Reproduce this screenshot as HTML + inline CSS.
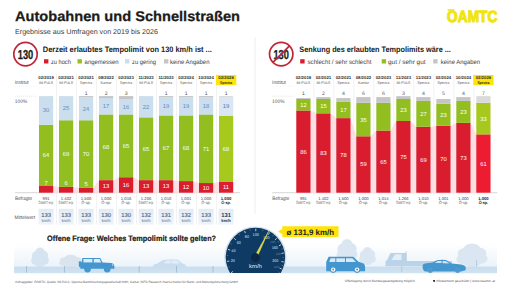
<!DOCTYPE html>
<html><head><meta charset="utf-8"><style>
html,body{margin:0;padding:0;background:#fff;width:512px;height:288px;overflow:hidden}
svg{display:block}
text{font-family:"Liberation Sans",sans-serif;text-rendering:geometricPrecision}
</style></head><body>
<svg width="512" height="288" viewBox="0 0 512 288">
<rect width="512" height="288" fill="#fff"/>
<text x="15" y="21" font-size="14" fill="#1b1b1b" font-weight="bold" textLength="225" lengthAdjust="spacingAndGlyphs" stroke="#1b1b1b" stroke-width="0.25">Autobahnen und Schnellstraßen</text>
<text x="15" y="33.6" font-size="7.1" fill="#3a3a3a" textLength="143" lengthAdjust="spacingAndGlyphs">Ergebnisse aus Umfragen von 2019 bis 2026</text>
<text x="447.1" y="21.9" font-size="16.2" fill="#f1e40e" font-weight="bold" textLength="50.2" lengthAdjust="spacingAndGlyphs" stroke="#f1e40e" stroke-width="1.15" stroke-linejoin="miter">OAMTC</text>
<rect x="447.6" y="9.2" width="6.8" height="1.6" fill="#f1e40e"/>
<line x1="255" y1="37" x2="255" y2="214" stroke="#eeeeee" stroke-width="1"/>
<defs><linearGradient id="mw" x1="0" y1="0" x2="0" y2="1"><stop offset="0" stop-color="#e2ebf4"/><stop offset="1" stop-color="#eff4f9"/></linearGradient></defs>
<circle cx="25.5" cy="54.1" r="11.7" fill="#fff" stroke="#bf2639" stroke-width="1.7"/>
<text x="25.5" y="58.7" font-size="13" fill="#1c1c1c" font-weight="bold" text-anchor="middle" textLength="15.5" lengthAdjust="spacingAndGlyphs" stroke="#1c1c1c" stroke-width="0.3">130</text>
<text x="42.8" y="51.7" font-size="7.9" fill="#222" font-weight="bold" textLength="169" lengthAdjust="spacingAndGlyphs">Derzeit erlaubtes Tempolimit von 130 km/h ist ...</text>
<rect x="44" y="59.2" width="4.4" height="4.3" fill="#d91d2e"/>
<text x="50.9" y="63.5" font-size="6.3" fill="#404040" textLength="20" lengthAdjust="spacingAndGlyphs">zu hoch</text>
<rect x="77.5" y="59.2" width="4.4" height="4.3" fill="#92be20"/>
<text x="84.6" y="63.5" font-size="6.3" fill="#404040" textLength="34" lengthAdjust="spacingAndGlyphs">angemessen</text>
<rect x="125" y="59.2" width="4.4" height="4.3" fill="#cadeee"/>
<text x="132" y="63.5" font-size="6.3" fill="#404040" textLength="24" lengthAdjust="spacingAndGlyphs">zu gering</text>
<rect x="164" y="59.2" width="4.4" height="4.3" fill="#c5c5c5"/>
<text x="170" y="63.5" font-size="6.3" fill="#404040" textLength="39.5" lengthAdjust="spacingAndGlyphs">keine Angaben</text>
<text x="14.8" y="83.6" font-size="5" fill="#555" textLength="13.8" lengthAdjust="spacingAndGlyphs">Institut</text>
<line x1="15" y1="86.3" x2="37" y2="86.3" stroke="#e0e0e0" stroke-width="0.4" stroke-dasharray="1 1"/>
<text x="14.8" y="102.5" font-size="5" fill="#555" textLength="12.4" lengthAdjust="spacingAndGlyphs">100%</text>
<text x="15" y="199.8" font-size="5" fill="#555" textLength="17" lengthAdjust="spacingAndGlyphs">Befragte</text>
<line x1="15" y1="96.2" x2="37" y2="96.2" stroke="#ccc" stroke-width="0.5" stroke-dasharray="1 1"/>
<line x1="15" y1="192.7" x2="240" y2="192.7" stroke="#bbb" stroke-width="0.6"/>
<text x="14.6" y="218.6" font-size="5" fill="#555" textLength="20.4" lengthAdjust="spacingAndGlyphs">Mittelwert</text>
<line x1="56.5" y1="74" x2="56.5" y2="224.5" stroke="#e4e4e4" stroke-width="0.5"/>
<line x1="76.5" y1="74" x2="76.5" y2="224.5" stroke="#e4e4e4" stroke-width="0.5"/>
<line x1="96.5" y1="74" x2="96.5" y2="224.5" stroke="#e4e4e4" stroke-width="0.5"/>
<line x1="116.5" y1="74" x2="116.5" y2="224.5" stroke="#e4e4e4" stroke-width="0.5"/>
<line x1="136.5" y1="74" x2="136.5" y2="224.5" stroke="#e4e4e4" stroke-width="0.5"/>
<line x1="156.5" y1="74" x2="156.5" y2="224.5" stroke="#e4e4e4" stroke-width="0.5"/>
<line x1="176.5" y1="74" x2="176.5" y2="224.5" stroke="#e4e4e4" stroke-width="0.5"/>
<line x1="196.5" y1="74" x2="196.5" y2="224.5" stroke="#e4e4e4" stroke-width="0.5"/>
<line x1="216.5" y1="74" x2="216.5" y2="224.5" stroke="#e4e4e4" stroke-width="0.5"/>
<polygon points="39.00,186.00 53.20,186.00 59.00,186.90 73.20,186.90 79.00,187.87 93.20,187.87 99.00,180.14 113.20,180.14 119.00,177.24 133.20,177.24 139.00,180.14 153.20,180.14 159.00,180.14 173.20,180.14 179.00,181.11 193.20,181.11 199.00,183.04 213.20,183.04 219.00,181.97 233.20,181.97 233.20,192.7 39.00,192.7" fill="#fcdfe3"/>
<text x="46.1" y="79.3" font-size="4.3" fill="#333" font-weight="bold" text-anchor="middle">02/2019</text>
<text x="46.1" y="83.6" font-size="3.8" fill="#555" text-anchor="middle" textLength="14" lengthAdjust="spacingAndGlyphs">IM-PULS</text>
<rect x="39" y="186.00" width="14.2" height="6.70" fill="#d91d2e"/>
<rect x="39" y="124.79" width="14.2" height="61.21" fill="#92be20"/>
<rect x="39" y="96.10" width="14.2" height="28.69" fill="#cadeee"/>
<rect x="39" y="96.10" width="14.2" height="0.00" fill="#c5c5c5"/>
<text x="46.1" y="112.44653465346533" font-size="5.8" fill="#5f8fc2" text-anchor="middle">30</text>
<text x="46.1" y="157.39900990099008" font-size="5.8" fill="#fff" text-anchor="middle">64</text>
<text x="46.1" y="184.50495049504948" font-size="5.8" fill="#fff" text-anchor="middle">7</text>
<text x="46.1" y="199.8" font-size="4.2" fill="#444" text-anchor="middle">991</text>
<text x="46.1" y="204.1" font-size="4.2" fill="#555" text-anchor="middle" textLength="15" lengthAdjust="spacingAndGlyphs">ÖAMTC-erp.</text>
<rect x="38.6" y="208.8" width="15.0" height="15.8" fill="url(#mw)"/>
<text x="46.1" y="217.2" font-size="5.8" fill="#4a6c90" text-anchor="middle" stroke="#4a6c90" stroke-width="0.15">133</text>
<text x="46.1" y="221.7" font-size="4.1" fill="#4a6c90" text-anchor="middle">km/h</text>
<text x="66.1" y="79.3" font-size="4.3" fill="#333" font-weight="bold" text-anchor="middle">02/2021</text>
<text x="66.1" y="83.6" font-size="3.8" fill="#555" text-anchor="middle" textLength="14" lengthAdjust="spacingAndGlyphs">IM-PULS</text>
<rect x="59" y="186.90" width="14.2" height="5.80" fill="#d91d2e"/>
<rect x="59" y="120.25" width="14.2" height="66.65" fill="#92be20"/>
<rect x="59" y="96.10" width="14.2" height="24.15" fill="#cadeee"/>
<rect x="59" y="96.10" width="14.2" height="0.00" fill="#c5c5c5"/>
<text x="66.1" y="110.175" font-size="5.8" fill="#5f8fc2" text-anchor="middle">25</text>
<text x="66.1" y="155.577" font-size="5.8" fill="#fff" text-anchor="middle">69</text>
<text x="66.1" y="185.404" font-size="5.8" fill="#fff" text-anchor="middle">6</text>
<text x="66.1" y="199.8" font-size="4.2" fill="#444" text-anchor="middle">1.402</text>
<text x="66.1" y="204.1" font-size="4.2" fill="#555" text-anchor="middle" textLength="15" lengthAdjust="spacingAndGlyphs">ÖAMTC-erp.</text>
<rect x="58.6" y="208.8" width="15.0" height="15.8" fill="url(#mw)"/>
<text x="66.1" y="217.2" font-size="5.8" fill="#4a6c90" text-anchor="middle" stroke="#4a6c90" stroke-width="0.15">133</text>
<text x="66.1" y="221.7" font-size="4.1" fill="#4a6c90" text-anchor="middle">km/h</text>
<text x="86.1" y="79.3" font-size="4.3" fill="#333" font-weight="bold" text-anchor="middle">02/2021</text>
<text x="86.1" y="83.6" font-size="3.8" fill="#555" text-anchor="middle" textLength="12" lengthAdjust="spacingAndGlyphs">Spectra</text>
<rect x="79" y="187.87" width="14.2" height="4.83" fill="#d91d2e"/>
<rect x="79" y="120.25" width="14.2" height="67.62" fill="#92be20"/>
<rect x="79" y="97.07" width="14.2" height="23.18" fill="#cadeee"/>
<rect x="79" y="96.10" width="14.2" height="0.97" fill="#c5c5c5"/>
<text x="86.1" y="94.5" font-size="5.2" fill="#555" text-anchor="middle">1</text>
<text x="86.1" y="110.65799999999999" font-size="5.8" fill="#5f8fc2" text-anchor="middle">24</text>
<text x="86.1" y="156.05999999999997" font-size="5.8" fill="#fff" text-anchor="middle">70</text>
<text x="86.1" y="186.36999999999998" font-size="5.8" fill="#fff" text-anchor="middle">5</text>
<text x="86.1" y="199.8" font-size="4.2" fill="#444" text-anchor="middle">1.500</text>
<text x="86.1" y="204.1" font-size="4.2" fill="#555" text-anchor="middle" textLength="9.5" lengthAdjust="spacingAndGlyphs">Ö-sp.</text>
<rect x="78.6" y="208.8" width="15.0" height="15.8" fill="url(#mw)"/>
<text x="86.1" y="217.2" font-size="5.8" fill="#4a6c90" text-anchor="middle" stroke="#4a6c90" stroke-width="0.15">133</text>
<text x="86.1" y="221.7" font-size="4.1" fill="#4a6c90" text-anchor="middle">km/h</text>
<text x="106.1" y="79.3" font-size="4.3" fill="#333" font-weight="bold" text-anchor="middle">08/2022</text>
<text x="106.1" y="83.6" font-size="3.8" fill="#555" text-anchor="middle" textLength="11" lengthAdjust="spacingAndGlyphs">Kantar</text>
<rect x="99" y="180.14" width="14.2" height="12.56" fill="#d91d2e"/>
<rect x="99" y="114.45" width="14.2" height="65.69" fill="#92be20"/>
<rect x="99" y="98.03" width="14.2" height="16.42" fill="#cadeee"/>
<rect x="99" y="96.10" width="14.2" height="1.93" fill="#c5c5c5"/>
<text x="106.1" y="94.5" font-size="5.2" fill="#555" text-anchor="middle">2</text>
<text x="106.1" y="108.243" font-size="5.8" fill="#5f8fc2" text-anchor="middle">17</text>
<text x="106.1" y="149.298" font-size="5.8" fill="#fff" text-anchor="middle">68</text>
<text x="106.1" y="188.421" font-size="5.8" fill="#fff" text-anchor="middle">13</text>
<text x="106.1" y="199.8" font-size="4.2" fill="#444" text-anchor="middle">1.000</text>
<text x="106.1" y="204.1" font-size="4.2" fill="#555" text-anchor="middle" textLength="9.5" lengthAdjust="spacingAndGlyphs">Ö-sp.</text>
<rect x="98.6" y="208.8" width="15.0" height="15.8" fill="url(#mw)"/>
<text x="106.1" y="217.2" font-size="5.8" fill="#4a6c90" text-anchor="middle" stroke="#4a6c90" stroke-width="0.15">130</text>
<text x="106.1" y="221.7" font-size="4.1" fill="#4a6c90" text-anchor="middle">km/h</text>
<text x="126.1" y="79.3" font-size="4.3" fill="#333" font-weight="bold" text-anchor="middle">02/2023</text>
<text x="126.1" y="83.6" font-size="3.8" fill="#555" text-anchor="middle" textLength="12" lengthAdjust="spacingAndGlyphs">Spectra</text>
<rect x="119" y="177.24" width="14.2" height="15.46" fill="#d91d2e"/>
<rect x="119" y="114.45" width="14.2" height="62.79" fill="#92be20"/>
<rect x="119" y="99.00" width="14.2" height="15.46" fill="#cadeee"/>
<rect x="119" y="96.10" width="14.2" height="2.90" fill="#c5c5c5"/>
<text x="126.1" y="94.5" font-size="5.2" fill="#555" text-anchor="middle">3</text>
<text x="126.1" y="108.726" font-size="5.8" fill="#5f8fc2" text-anchor="middle">16</text>
<text x="126.1" y="147.849" font-size="5.8" fill="#fff" text-anchor="middle">65</text>
<text x="126.1" y="186.97199999999998" font-size="5.8" fill="#fff" text-anchor="middle">16</text>
<text x="126.1" y="199.8" font-size="4.2" fill="#444" text-anchor="middle">1.016</text>
<text x="126.1" y="204.1" font-size="4.2" fill="#555" text-anchor="middle" textLength="9.5" lengthAdjust="spacingAndGlyphs">Ö-sp.</text>
<rect x="118.6" y="208.8" width="15.0" height="15.8" fill="url(#mw)"/>
<text x="126.1" y="217.2" font-size="5.8" fill="#4a6c90" text-anchor="middle" stroke="#4a6c90" stroke-width="0.15">130</text>
<text x="126.1" y="221.7" font-size="4.1" fill="#4a6c90" text-anchor="middle">km/h</text>
<text x="146.1" y="79.3" font-size="4.3" fill="#333" font-weight="bold" text-anchor="middle">11/2023</text>
<text x="146.1" y="83.6" font-size="3.8" fill="#555" text-anchor="middle" textLength="14" lengthAdjust="spacingAndGlyphs">IM-PULS</text>
<rect x="139" y="180.14" width="14.2" height="12.56" fill="#d91d2e"/>
<rect x="139" y="117.35" width="14.2" height="62.79" fill="#92be20"/>
<rect x="139" y="96.10" width="14.2" height="21.25" fill="#cadeee"/>
<rect x="139" y="96.10" width="14.2" height="0.00" fill="#c5c5c5"/>
<text x="146.1" y="108.726" font-size="5.8" fill="#5f8fc2" text-anchor="middle">22</text>
<text x="146.1" y="150.747" font-size="5.8" fill="#fff" text-anchor="middle">65</text>
<text x="146.1" y="188.421" font-size="5.8" fill="#fff" text-anchor="middle">13</text>
<text x="146.1" y="199.8" font-size="4.2" fill="#444" text-anchor="middle">1.266</text>
<text x="146.1" y="204.1" font-size="4.2" fill="#555" text-anchor="middle" textLength="15" lengthAdjust="spacingAndGlyphs">ÖAMTC-erp.</text>
<rect x="138.6" y="208.8" width="15.0" height="15.8" fill="url(#mw)"/>
<text x="146.1" y="217.2" font-size="5.8" fill="#4a6c90" text-anchor="middle" stroke="#4a6c90" stroke-width="0.15">132</text>
<text x="146.1" y="221.7" font-size="4.1" fill="#4a6c90" text-anchor="middle">km/h</text>
<text x="166.1" y="79.3" font-size="4.3" fill="#333" font-weight="bold" text-anchor="middle">11/2023</text>
<text x="166.1" y="83.6" font-size="3.8" fill="#555" text-anchor="middle" textLength="12" lengthAdjust="spacingAndGlyphs">Spectra</text>
<rect x="159" y="180.14" width="14.2" height="12.56" fill="#d91d2e"/>
<rect x="159" y="115.42" width="14.2" height="64.72" fill="#92be20"/>
<rect x="159" y="97.07" width="14.2" height="18.35" fill="#cadeee"/>
<rect x="159" y="96.10" width="14.2" height="0.97" fill="#c5c5c5"/>
<text x="166.1" y="94.5" font-size="5.2" fill="#555" text-anchor="middle">1</text>
<text x="166.1" y="108.243" font-size="5.8" fill="#5f8fc2" text-anchor="middle">19</text>
<text x="166.1" y="149.781" font-size="5.8" fill="#fff" text-anchor="middle">67</text>
<text x="166.1" y="188.421" font-size="5.8" fill="#fff" text-anchor="middle">13</text>
<text x="166.1" y="199.8" font-size="4.2" fill="#444" text-anchor="middle">1.010</text>
<text x="166.1" y="204.1" font-size="4.2" fill="#555" text-anchor="middle" textLength="9.5" lengthAdjust="spacingAndGlyphs">Ö-sp.</text>
<rect x="158.6" y="208.8" width="15.0" height="15.8" fill="url(#mw)"/>
<text x="166.1" y="217.2" font-size="5.8" fill="#4a6c90" text-anchor="middle" stroke="#4a6c90" stroke-width="0.15">131</text>
<text x="166.1" y="221.7" font-size="4.1" fill="#4a6c90" text-anchor="middle">km/h</text>
<text x="186.1" y="79.3" font-size="4.3" fill="#333" font-weight="bold" text-anchor="middle">02/2024</text>
<text x="186.1" y="83.6" font-size="3.8" fill="#555" text-anchor="middle" textLength="12" lengthAdjust="spacingAndGlyphs">Spectra</text>
<rect x="179" y="181.11" width="14.2" height="11.59" fill="#d91d2e"/>
<rect x="179" y="115.42" width="14.2" height="65.69" fill="#92be20"/>
<rect x="179" y="97.07" width="14.2" height="18.35" fill="#cadeee"/>
<rect x="179" y="96.10" width="14.2" height="0.97" fill="#c5c5c5"/>
<text x="186.1" y="94.5" font-size="5.2" fill="#555" text-anchor="middle">1</text>
<text x="186.1" y="108.243" font-size="5.8" fill="#5f8fc2" text-anchor="middle">19</text>
<text x="186.1" y="150.264" font-size="5.8" fill="#fff" text-anchor="middle">68</text>
<text x="186.1" y="188.904" font-size="5.8" fill="#fff" text-anchor="middle">12</text>
<text x="186.1" y="199.8" font-size="4.2" fill="#444" text-anchor="middle">1.001</text>
<text x="186.1" y="204.1" font-size="4.2" fill="#555" text-anchor="middle" textLength="9.5" lengthAdjust="spacingAndGlyphs">Ö-sp.</text>
<rect x="178.6" y="208.8" width="15.0" height="15.8" fill="url(#mw)"/>
<text x="186.1" y="217.2" font-size="5.8" fill="#4a6c90" text-anchor="middle" stroke="#4a6c90" stroke-width="0.15">132</text>
<text x="186.1" y="221.7" font-size="4.1" fill="#4a6c90" text-anchor="middle">km/h</text>
<text x="206.1" y="79.3" font-size="4.3" fill="#333" font-weight="bold" text-anchor="middle">10/2024</text>
<text x="206.1" y="83.6" font-size="3.8" fill="#555" text-anchor="middle" textLength="12" lengthAdjust="spacingAndGlyphs">Spectra</text>
<rect x="199" y="183.04" width="14.2" height="9.66" fill="#d91d2e"/>
<rect x="199" y="114.45" width="14.2" height="68.59" fill="#92be20"/>
<rect x="199" y="97.07" width="14.2" height="17.39" fill="#cadeee"/>
<rect x="199" y="96.10" width="14.2" height="0.97" fill="#c5c5c5"/>
<text x="206.1" y="94.5" font-size="5.2" fill="#555" text-anchor="middle">1</text>
<text x="206.1" y="107.75999999999999" font-size="5.8" fill="#5f8fc2" text-anchor="middle">18</text>
<text x="206.1" y="150.74699999999999" font-size="5.8" fill="#fff" text-anchor="middle">71</text>
<text x="206.1" y="189.87" font-size="5.8" fill="#fff" text-anchor="middle">10</text>
<text x="206.1" y="199.8" font-size="4.2" fill="#444" text-anchor="middle">1.000</text>
<text x="206.1" y="204.1" font-size="4.2" fill="#555" text-anchor="middle" textLength="9.5" lengthAdjust="spacingAndGlyphs">Ö-sp.</text>
<rect x="198.6" y="208.8" width="15.0" height="15.8" fill="url(#mw)"/>
<text x="206.1" y="217.2" font-size="5.8" fill="#4a6c90" text-anchor="middle" stroke="#4a6c90" stroke-width="0.15">133</text>
<text x="206.1" y="221.7" font-size="4.1" fill="#4a6c90" text-anchor="middle">km/h</text>
<rect x="216" y="75" width="20.3" height="10" fill="#fde40a"/>
<text x="226.1" y="79.3" font-size="4.3" fill="#333" font-weight="bold" text-anchor="middle">02/2026</text>
<text x="226.1" y="83.6" font-size="3.8" fill="#222" font-weight="bold" text-anchor="middle" textLength="12" lengthAdjust="spacingAndGlyphs">Spectra</text>
<rect x="219" y="181.97" width="14.2" height="10.73" fill="#dc1f31"/>
<rect x="219" y="115.62" width="14.2" height="66.35" fill="#a7c81c"/>
<rect x="219" y="97.08" width="14.2" height="18.54" fill="#d9e7f4"/>
<rect x="219" y="96.10" width="14.2" height="0.98" fill="#dadada"/>
<text x="226.1" y="94.5" font-size="5.2" fill="#555" text-anchor="middle">1</text>
<text x="226.1" y="108.34545454545456" font-size="5.8" fill="#4a78a8" text-anchor="middle">19</text>
<text x="226.1" y="150.7909090909091" font-size="5.8" fill="#fff" text-anchor="middle">68</text>
<text x="226.1" y="189.33333333333331" font-size="5.8" fill="#fff" text-anchor="middle">11</text>
<text x="226.1" y="199.8" font-size="4.2" fill="#222" font-weight="bold" text-anchor="middle">1.000</text>
<text x="226.1" y="204.1" font-size="4.2" fill="#222" font-weight="bold" text-anchor="middle" textLength="9.5" lengthAdjust="spacingAndGlyphs">Ö-sp.</text>
<rect x="218.6" y="208.8" width="15.0" height="15.8" fill="url(#mw)"/>
<text x="226.1" y="217.2" font-size="5.8" fill="#1e3550" font-weight="bold" text-anchor="middle">131</text>
<text x="226.1" y="221.7" font-size="4.1" fill="#1e3550" font-weight="bold" text-anchor="middle">km/h</text>
<circle cx="281.2" cy="54.1" r="11.7" fill="#fff" stroke="#bf2639" stroke-width="1.7"/>
<text x="281.2" y="58.7" font-size="13" fill="#1c1c1c" font-weight="bold" text-anchor="middle" textLength="15.5" lengthAdjust="spacingAndGlyphs" stroke="#1c1c1c" stroke-width="0.3">130</text>
<line x1="289.5" y1="45.8" x2="272.9" y2="62.400000000000006" stroke="#bf2639" stroke-width="1.7"/>
<text x="299.3" y="51.7" font-size="7.9" fill="#222" font-weight="bold" textLength="151.5" lengthAdjust="spacingAndGlyphs">Senkung des erlaubten Tempolimits wäre ...</text>
<rect x="300.2" y="59.2" width="4.4" height="4.3" fill="#d91d2e"/>
<text x="307.5" y="63.5" font-size="6.3" fill="#404040" textLength="64" lengthAdjust="spacingAndGlyphs">schlecht / sehr schlecht</text>
<rect x="381.7" y="59.2" width="4.4" height="4.3" fill="#92be20"/>
<text x="388.0" y="63.5" font-size="6.3" fill="#404040" textLength="37.5" lengthAdjust="spacingAndGlyphs">gut / sehr gut</text>
<rect x="433.2" y="59.2" width="4.4" height="4.3" fill="#c5c5c5"/>
<text x="440.7" y="63.5" font-size="6.3" fill="#404040" textLength="39.5" lengthAdjust="spacingAndGlyphs">keine Angaben</text>
<text x="272.1" y="83.6" font-size="5" fill="#555" textLength="13.8" lengthAdjust="spacingAndGlyphs">Institut</text>
<line x1="272.3" y1="86.3" x2="294.3" y2="86.3" stroke="#e0e0e0" stroke-width="0.4" stroke-dasharray="1 1"/>
<text x="272.1" y="102.5" font-size="5" fill="#555" textLength="12.4" lengthAdjust="spacingAndGlyphs">100%</text>
<text x="272.3" y="199.8" font-size="5" fill="#555" textLength="17" lengthAdjust="spacingAndGlyphs">Befragte</text>
<line x1="272.3" y1="96.2" x2="294.3" y2="96.2" stroke="#ccc" stroke-width="0.5" stroke-dasharray="1 1"/>
<line x1="272.3" y1="192.7" x2="497.3" y2="192.7" stroke="#bbb" stroke-width="0.6"/>
<line x1="313.8" y1="74" x2="313.8" y2="195.5" stroke="#e4e4e4" stroke-width="0.5"/>
<line x1="333.8" y1="74" x2="333.8" y2="195.5" stroke="#e4e4e4" stroke-width="0.5"/>
<line x1="353.8" y1="74" x2="353.8" y2="195.5" stroke="#e4e4e4" stroke-width="0.5"/>
<line x1="373.8" y1="74" x2="373.8" y2="195.5" stroke="#e4e4e4" stroke-width="0.5"/>
<line x1="393.8" y1="74" x2="393.8" y2="195.5" stroke="#e4e4e4" stroke-width="0.5"/>
<line x1="413.8" y1="74" x2="413.8" y2="195.5" stroke="#e4e4e4" stroke-width="0.5"/>
<line x1="433.8" y1="74" x2="433.8" y2="195.5" stroke="#e4e4e4" stroke-width="0.5"/>
<line x1="453.8" y1="74" x2="453.8" y2="195.5" stroke="#e4e4e4" stroke-width="0.5"/>
<line x1="473.8" y1="74" x2="473.8" y2="195.5" stroke="#e4e4e4" stroke-width="0.5"/>
<polygon points="296.30,110.48 310.50,110.48 316.30,113.35 330.50,113.35 336.30,118.13 350.50,118.13 356.30,136.30 370.50,136.30 376.30,130.56 390.50,130.56 396.30,121.00 410.50,121.00 416.30,126.74 430.50,126.74 436.30,125.78 450.50,125.78 456.30,122.91 470.50,122.91 476.30,134.38 490.50,134.38 490.50,192.7 296.30,192.7" fill="#fcdfe3"/>
<text x="303.40000000000003" y="79.3" font-size="4.3" fill="#333" font-weight="bold" text-anchor="middle">02/2019</text>
<text x="303.40000000000003" y="83.6" font-size="3.8" fill="#555" text-anchor="middle" textLength="14" lengthAdjust="spacingAndGlyphs">IM-PULS</text>
<rect x="296.3" y="110.48" width="14.2" height="82.22" fill="#d91d2e"/>
<rect x="296.3" y="99.01" width="14.2" height="11.47" fill="#92be20"/>
<rect x="296.3" y="98.06" width="14.2" height="0.96" fill="#c5c5c5"/>
<text x="303.40000000000003" y="94.5" font-size="5.2" fill="#555" text-anchor="middle">1</text>
<text x="303.40000000000003" y="106.74799999999999" font-size="5.8" fill="#fff" text-anchor="middle">12</text>
<text x="303.40000000000003" y="153.59199999999998" font-size="5.8" fill="#fff" text-anchor="middle">86</text>
<text x="303.40000000000003" y="199.8" font-size="4.2" fill="#444" text-anchor="middle">991</text>
<text x="303.40000000000003" y="204.1" font-size="4.2" fill="#555" text-anchor="middle" textLength="15" lengthAdjust="spacingAndGlyphs">ÖAMTC-erp.</text>
<text x="323.40000000000003" y="79.3" font-size="4.3" fill="#333" font-weight="bold" text-anchor="middle">02/2021</text>
<text x="323.40000000000003" y="83.6" font-size="3.8" fill="#555" text-anchor="middle" textLength="14" lengthAdjust="spacingAndGlyphs">IM-PULS</text>
<rect x="316.3" y="113.35" width="14.2" height="79.35" fill="#d91d2e"/>
<rect x="316.3" y="99.01" width="14.2" height="14.34" fill="#92be20"/>
<rect x="316.3" y="97.10" width="14.2" height="1.91" fill="#c5c5c5"/>
<text x="323.40000000000003" y="94.5" font-size="5.2" fill="#555" text-anchor="middle">2</text>
<text x="323.40000000000003" y="108.182" font-size="5.8" fill="#fff" text-anchor="middle">15</text>
<text x="323.40000000000003" y="155.026" font-size="5.8" fill="#fff" text-anchor="middle">83</text>
<text x="323.40000000000003" y="199.8" font-size="4.2" fill="#444" text-anchor="middle">1.402</text>
<text x="323.40000000000003" y="204.1" font-size="4.2" fill="#555" text-anchor="middle" textLength="15" lengthAdjust="spacingAndGlyphs">ÖAMTC-erp.</text>
<text x="343.40000000000003" y="79.3" font-size="4.3" fill="#333" font-weight="bold" text-anchor="middle">02/2021</text>
<text x="343.40000000000003" y="83.6" font-size="3.8" fill="#555" text-anchor="middle" textLength="12" lengthAdjust="spacingAndGlyphs">Spectra</text>
<rect x="336.3" y="118.13" width="14.2" height="74.57" fill="#d91d2e"/>
<rect x="336.3" y="101.88" width="14.2" height="16.25" fill="#92be20"/>
<rect x="336.3" y="98.06" width="14.2" height="3.82" fill="#c5c5c5"/>
<text x="343.40000000000003" y="94.5" font-size="5.2" fill="#555" text-anchor="middle">4</text>
<text x="343.40000000000003" y="112.006" font-size="5.8" fill="#fff" text-anchor="middle">17</text>
<text x="343.40000000000003" y="157.416" font-size="5.8" fill="#fff" text-anchor="middle">78</text>
<text x="343.40000000000003" y="199.8" font-size="4.2" fill="#444" text-anchor="middle">1.500</text>
<text x="343.40000000000003" y="204.1" font-size="4.2" fill="#555" text-anchor="middle" textLength="9.5" lengthAdjust="spacingAndGlyphs">Ö-sp.</text>
<text x="363.40000000000003" y="79.3" font-size="4.3" fill="#333" font-weight="bold" text-anchor="middle">08/2022</text>
<text x="363.40000000000003" y="83.6" font-size="3.8" fill="#555" text-anchor="middle" textLength="11" lengthAdjust="spacingAndGlyphs">Kantar</text>
<rect x="356.3" y="136.30" width="14.2" height="56.40" fill="#d91d2e"/>
<rect x="356.3" y="102.84" width="14.2" height="33.46" fill="#92be20"/>
<rect x="356.3" y="97.10" width="14.2" height="5.74" fill="#c5c5c5"/>
<text x="363.40000000000003" y="94.5" font-size="5.2" fill="#555" text-anchor="middle">6</text>
<text x="363.40000000000003" y="121.566" font-size="5.8" fill="#fff" text-anchor="middle">35</text>
<text x="363.40000000000003" y="166.498" font-size="5.8" fill="#fff" text-anchor="middle">59</text>
<text x="363.40000000000003" y="199.8" font-size="4.2" fill="#444" text-anchor="middle">1.000</text>
<text x="363.40000000000003" y="204.1" font-size="4.2" fill="#555" text-anchor="middle" textLength="9.5" lengthAdjust="spacingAndGlyphs">Ö-sp.</text>
<text x="383.40000000000003" y="79.3" font-size="4.3" fill="#333" font-weight="bold" text-anchor="middle">02/2023</text>
<text x="383.40000000000003" y="83.6" font-size="3.8" fill="#555" text-anchor="middle" textLength="12" lengthAdjust="spacingAndGlyphs">Spectra</text>
<rect x="376.3" y="130.56" width="14.2" height="62.14" fill="#d91d2e"/>
<rect x="376.3" y="102.84" width="14.2" height="27.72" fill="#92be20"/>
<rect x="376.3" y="97.10" width="14.2" height="5.74" fill="#c5c5c5"/>
<text x="383.40000000000003" y="94.5" font-size="5.2" fill="#555" text-anchor="middle">6</text>
<text x="383.40000000000003" y="163.63" font-size="5.8" fill="#fff" text-anchor="middle">65</text>
<text x="383.40000000000003" y="199.8" font-size="4.2" fill="#444" text-anchor="middle">1.014</text>
<text x="383.40000000000003" y="204.1" font-size="4.2" fill="#555" text-anchor="middle" textLength="9.5" lengthAdjust="spacingAndGlyphs">Ö-sp.</text>
<text x="403.40000000000003" y="79.3" font-size="4.3" fill="#333" font-weight="bold" text-anchor="middle">11/2023</text>
<text x="403.40000000000003" y="83.6" font-size="3.8" fill="#555" text-anchor="middle" textLength="14" lengthAdjust="spacingAndGlyphs">IM-PULS</text>
<rect x="396.3" y="121.00" width="14.2" height="71.70" fill="#d91d2e"/>
<rect x="396.3" y="99.01" width="14.2" height="21.99" fill="#92be20"/>
<rect x="396.3" y="96.14" width="14.2" height="2.87" fill="#c5c5c5"/>
<text x="403.40000000000003" y="94.5" font-size="5.2" fill="#555" text-anchor="middle">3</text>
<text x="403.40000000000003" y="112.006" font-size="5.8" fill="#fff" text-anchor="middle">23</text>
<text x="403.40000000000003" y="158.85" font-size="5.8" fill="#fff" text-anchor="middle">75</text>
<text x="403.40000000000003" y="199.8" font-size="4.2" fill="#444" text-anchor="middle">1.266</text>
<text x="403.40000000000003" y="204.1" font-size="4.2" fill="#555" text-anchor="middle" textLength="15" lengthAdjust="spacingAndGlyphs">ÖAMTC-erp.</text>
<text x="423.40000000000003" y="79.3" font-size="4.3" fill="#333" font-weight="bold" text-anchor="middle">11/2023</text>
<text x="423.40000000000003" y="83.6" font-size="3.8" fill="#555" text-anchor="middle" textLength="12" lengthAdjust="spacingAndGlyphs">Spectra</text>
<rect x="416.3" y="126.74" width="14.2" height="65.96" fill="#d91d2e"/>
<rect x="416.3" y="100.92" width="14.2" height="25.81" fill="#92be20"/>
<rect x="416.3" y="97.10" width="14.2" height="3.82" fill="#c5c5c5"/>
<text x="423.40000000000003" y="94.5" font-size="5.2" fill="#555" text-anchor="middle">4</text>
<text x="423.40000000000003" y="115.83000000000001" font-size="5.8" fill="#fff" text-anchor="middle">27</text>
<text x="423.40000000000003" y="161.718" font-size="5.8" fill="#fff" text-anchor="middle">69</text>
<text x="423.40000000000003" y="199.8" font-size="4.2" fill="#444" text-anchor="middle">1.010</text>
<text x="423.40000000000003" y="204.1" font-size="4.2" fill="#555" text-anchor="middle" textLength="9.5" lengthAdjust="spacingAndGlyphs">Ö-sp.</text>
<text x="443.40000000000003" y="79.3" font-size="4.3" fill="#333" font-weight="bold" text-anchor="middle">02/2024</text>
<text x="443.40000000000003" y="83.6" font-size="3.8" fill="#555" text-anchor="middle" textLength="12" lengthAdjust="spacingAndGlyphs">Spectra</text>
<rect x="436.3" y="125.78" width="14.2" height="66.92" fill="#d91d2e"/>
<rect x="436.3" y="103.79" width="14.2" height="21.99" fill="#92be20"/>
<rect x="436.3" y="99.01" width="14.2" height="4.78" fill="#c5c5c5"/>
<text x="443.40000000000003" y="94.5" font-size="5.2" fill="#555" text-anchor="middle">5</text>
<text x="443.40000000000003" y="116.786" font-size="5.8" fill="#fff" text-anchor="middle">23</text>
<text x="443.40000000000003" y="161.24" font-size="5.8" fill="#fff" text-anchor="middle">70</text>
<text x="443.40000000000003" y="199.8" font-size="4.2" fill="#444" text-anchor="middle">1.001</text>
<text x="443.40000000000003" y="204.1" font-size="4.2" fill="#555" text-anchor="middle" textLength="9.5" lengthAdjust="spacingAndGlyphs">Ö-sp.</text>
<text x="463.40000000000003" y="79.3" font-size="4.3" fill="#333" font-weight="bold" text-anchor="middle">10/2024</text>
<text x="463.40000000000003" y="83.6" font-size="3.8" fill="#555" text-anchor="middle" textLength="12" lengthAdjust="spacingAndGlyphs">Spectra</text>
<rect x="456.3" y="122.91" width="14.2" height="69.79" fill="#d91d2e"/>
<rect x="456.3" y="100.92" width="14.2" height="21.99" fill="#92be20"/>
<rect x="456.3" y="97.10" width="14.2" height="3.82" fill="#c5c5c5"/>
<text x="463.40000000000003" y="94.5" font-size="5.2" fill="#555" text-anchor="middle">4</text>
<text x="463.40000000000003" y="113.91799999999999" font-size="5.8" fill="#fff" text-anchor="middle">23</text>
<text x="463.40000000000003" y="159.80599999999998" font-size="5.8" fill="#fff" text-anchor="middle">73</text>
<text x="463.40000000000003" y="199.8" font-size="4.2" fill="#444" text-anchor="middle">1.000</text>
<text x="463.40000000000003" y="204.1" font-size="4.2" fill="#555" text-anchor="middle" textLength="9.5" lengthAdjust="spacingAndGlyphs">Ö-sp.</text>
<rect x="473.3" y="75" width="20.3" height="10" fill="#fde40a"/>
<text x="483.40000000000003" y="79.3" font-size="4.3" fill="#333" font-weight="bold" text-anchor="middle">02/2026</text>
<text x="483.40000000000003" y="83.6" font-size="3.8" fill="#222" font-weight="bold" text-anchor="middle" textLength="12" lengthAdjust="spacingAndGlyphs">Spectra</text>
<rect x="476.3" y="134.38" width="14.2" height="58.32" fill="#ee1c30"/>
<rect x="476.3" y="102.84" width="14.2" height="31.55" fill="#a7c81c"/>
<rect x="476.3" y="96.14" width="14.2" height="6.69" fill="#dadada"/>
<text x="483.40000000000003" y="94.5" font-size="5.2" fill="#555" text-anchor="middle">7</text>
<text x="483.40000000000003" y="120.60999999999999" font-size="5.8" fill="#fff" text-anchor="middle">33</text>
<text x="483.40000000000003" y="165.54199999999997" font-size="5.8" fill="#fff" text-anchor="middle">61</text>
<text x="483.40000000000003" y="199.8" font-size="4.2" fill="#222" font-weight="bold" text-anchor="middle">1.000</text>
<text x="483.40000000000003" y="204.1" font-size="4.2" fill="#222" font-weight="bold" text-anchor="middle" textLength="9.5" lengthAdjust="spacingAndGlyphs">Ö-sp.</text>
<defs>
<linearGradient id="sky" x1="0" y1="0" x2="0" y2="1">
 <stop offset="0" stop-color="#ffffff"/>
 <stop offset="0.5" stop-color="#f5f9fc"/>
 <stop offset="1" stop-color="#eaf3fa"/>
</linearGradient>
<linearGradient id="gnd" x1="0" y1="0" x2="0" y2="1">
 <stop offset="0" stop-color="#c8ddef"/>
 <stop offset="1" stop-color="#d0e3f1"/>
</linearGradient>
<filter id="blur" x="-20%" y="-20%" width="140%" height="140%"><feGaussianBlur stdDeviation="0.7"/></filter>
<clipPath id="sc"><rect x="14" y="230" width="483" height="43.5"/></clipPath>
</defs>
<g clip-path="url(#sc)">
<rect x="14" y="244" width="483" height="23" fill="url(#sky)"/>
<g filter="url(#blur)" fill="#d5e4f0"><ellipse cx="40.00" cy="253.30" rx="5.10" ry="5.88"/><ellipse cx="36.26" cy="255.82" rx="4.42" ry="4.62"/><ellipse cx="43.74" cy="255.40" rx="4.42" ry="4.62"/><ellipse cx="35.24" cy="260.65" rx="4.08" ry="4.20"/><ellipse cx="44.76" cy="260.23" rx="4.08" ry="4.20"/><ellipse cx="40.00" cy="258.55" rx="6.12" ry="6.30"/><ellipse cx="40.00" cy="263.38" rx="5.10" ry="3.78"/></g>
<g filter="url(#blur)" fill="#dae4ee"><ellipse cx="70.75" cy="258.55" rx="6.75" ry="3.78"/><ellipse cx="65.80" cy="260.17" rx="5.85" ry="2.97"/><ellipse cx="75.70" cy="259.90" rx="5.85" ry="2.97"/><ellipse cx="64.45" cy="263.27" rx="5.40" ry="2.70"/><ellipse cx="77.05" cy="263.00" rx="5.40" ry="2.70"/><ellipse cx="70.75" cy="261.93" rx="8.10" ry="4.05"/><ellipse cx="70.75" cy="265.03" rx="6.75" ry="2.43"/></g>
<g filter="url(#blur)" fill="#dae7f2"><ellipse cx="347.00" cy="246.15" rx="6.00" ry="7.14"/><ellipse cx="342.60" cy="249.21" rx="5.20" ry="5.61"/><ellipse cx="351.40" cy="248.70" rx="5.20" ry="5.61"/><ellipse cx="341.40" cy="255.07" rx="4.80" ry="5.10"/><ellipse cx="352.60" cy="254.56" rx="4.80" ry="5.10"/><ellipse cx="347.00" cy="252.53" rx="7.20" ry="7.65"/><ellipse cx="347.00" cy="258.39" rx="6.00" ry="4.59"/></g>
<g filter="url(#blur)" fill="#dae7f2"><ellipse cx="367.50" cy="252.35" rx="4.80" ry="5.46"/><ellipse cx="363.98" cy="254.69" rx="4.16" ry="4.29"/><ellipse cx="371.02" cy="254.30" rx="4.16" ry="4.29"/><ellipse cx="363.02" cy="259.18" rx="3.84" ry="3.90"/><ellipse cx="371.98" cy="258.79" rx="3.84" ry="3.90"/><ellipse cx="367.50" cy="257.23" rx="5.76" ry="5.85"/><ellipse cx="367.50" cy="261.71" rx="4.80" ry="3.51"/></g>
<g filter="url(#blur)" fill="#dae7f2"><ellipse cx="472.00" cy="250.50" rx="9.00" ry="7.00"/><ellipse cx="465.40" cy="253.50" rx="7.80" ry="5.50"/><ellipse cx="478.60" cy="253.00" rx="7.80" ry="5.50"/><ellipse cx="463.60" cy="259.25" rx="7.20" ry="5.00"/><ellipse cx="480.40" cy="258.75" rx="7.20" ry="5.00"/><ellipse cx="472.00" cy="256.75" rx="10.80" ry="7.50"/><ellipse cx="472.00" cy="262.50" rx="9.00" ry="4.50"/></g>
<rect x="476" y="260" width="0.6" height="13" fill="#9fbbd4"/>
<g fill="#c9ddee"><path d="M153,265.8 Q153.4,264.2 157,263.8 L162.5,260.2 Q164,259.4 170,259.4 L177.5,259.5 L182.5,263.6 Q186.2,264.2 186.2,267 L186.2,270.8 L153,270.8 Z"/></g>
<g fill="#e2edf7"><path d="M163.6,263.4 L166.2,260.6 L170.6,260.6 L170.6,263.4 Z"/><path d="M171.6,260.6 L177,260.6 L180.2,263.4 L171.6,263.4 Z"/></g>

<rect x="14" y="266.6" width="483" height="6.9" fill="url(#gnd)"/>
<rect x="26.05" y="266" width="0.5" height="6.5" fill="#7f9fbd"/>
<rect x="64.05" y="266" width="0.5" height="6.5" fill="#7f9fbd"/>
<rect x="138.85" y="266" width="0.5" height="6.5" fill="#7f9fbd"/>
<rect x="176.35" y="266" width="0.5" height="6.5" fill="#7f9fbd"/>
<rect x="212.75" y="266" width="0.5" height="6.5" fill="#7f9fbd"/>
</g>
<g fill="#4496cf">
<path d="M80.3,262.8 L81.6,262.3 L82.4,258 L100.2,258 L102.6,262.4 L111.5,263 Q114.2,263.5 114.4,266 L114.4,268.8 L80.3,268.8 Z"/>
<rect x="78.8" y="261.3" width="2.4" height="5.8" rx="0.8"/>
<circle cx="87.5" cy="269" r="3.4"/><circle cx="107.2" cy="269" r="3.4"/>
</g>
<g fill="#dcebf7"><rect x="83.4" y="259" width="9" height="3.4"/><path d="M93.8,259 L99.6,259 L101.3,262.4 L93.8,262.4 Z"/></g>
<circle cx="112.6" cy="265" r="0.7" fill="#cfe3f4"/>
<g fill="#4496cf">
<path d="M326.2,271.2 L326.2,262 L328.6,256.7 L353.2,256.7 L358.6,261.8 L363,263.2 Q365.1,264 365.1,267.5 L365.1,271.2 Z"/>
<circle cx="333.2" cy="269.6" r="3.3"/><circle cx="357.1" cy="269.6" r="3.3"/>
</g>
<g fill="#d9e9f6"><path d="M329.2,262 L330.6,258.3 L335.3,258.3 L335.3,262 Z"/><rect x="336.3" y="258.3" width="8.7" height="3.7"/><path d="M346,258.3 L352.4,258.3 L355.9,262 L346,262 Z"/></g>
<g fill="#fff"><circle cx="333.2" cy="269.6" r="2.2"/><circle cx="357.1" cy="269.6" r="2.2"/></g>
<g fill="#4496cf"><circle cx="333.2" cy="269.6" r="1"/><circle cx="357.1" cy="269.6" r="1"/></g>
<g fill="#bad3e8"><path d="M385.5,261.5 L387,260 L390.5,253 L406.5,253 L406.5,261 L452,261 L452,266.2 L385.5,266.2 Z"/>
<rect x="405.5" y="251.5" width="1.2" height="10"/></g>
<g fill="#e4eef7"><path d="M391.5,260 L395,254.3 L401.5,254.3 L401.5,260 Z"/></g>
<rect x="401.5" y="266" width="0.6" height="6" fill="#9dbbd6"/>
<g fill="#4496cf"><path d="M422.6,265.5 Q422.8,263.8 425,263.5 L432.5,262.6 L437,260.2 Q441,259.6 446,260 L451.8,263.6 L461,264.6 Q465.8,265.3 465.8,268 L465.5,270.2 L461,271.6 L425,271.6 Q422.5,270.5 422.6,265.5 Z"/>
<circle cx="430.2" cy="270.2" r="2.6"/><circle cx="457.6" cy="270.2" r="2.6"/></g>
<g fill="#cfe3f4"><path d="M434.8,263 L437.8,261 L441.6,260.9 L441.6,263 Z"/><path d="M442.6,260.9 L445.6,260.9 L449.6,263.4 L442.6,263.2 Z"/></g>
<g fill="none" stroke="#6fa6d6" stroke-width="0.5"><circle cx="430.2" cy="270.2" r="1.8"/><circle cx="457.6" cy="270.2" r="1.8"/></g>
<clipPath id="spc"><rect x="200" y="200" width="112" height="73"/></clipPath>
<g clip-path="url(#spc)">
<circle cx="255.4" cy="257.5" r="31.099999999999998" fill="#d3e0ec"/>
<circle cx="255.4" cy="257.5" r="29.7" fill="#0e3a63"/>
<line x1="231.06" y1="272.71" x2="233.10" y2="271.44" stroke="#fff" stroke-width="0.8" stroke-opacity="0.9"/>
<line x1="228.41" y1="267.27" x2="229.73" y2="266.79" stroke="#fff" stroke-width="0.5" stroke-opacity="0.55"/>
<line x1="226.97" y1="261.39" x2="229.34" y2="261.07" stroke="#fff" stroke-width="0.8" stroke-opacity="0.9"/>
<line x1="226.78" y1="255.33" x2="228.18" y2="255.44" stroke="#fff" stroke-width="0.5" stroke-opacity="0.55"/>
<line x1="227.88" y1="249.37" x2="230.18" y2="250.05" stroke="#fff" stroke-width="0.8" stroke-opacity="0.9"/>
<line x1="230.36" y1="243.48" x2="231.58" y2="244.17" stroke="#fff" stroke-width="0.5" stroke-opacity="0.55"/>
<line x1="234.08" y1="238.29" x2="235.86" y2="239.90" stroke="#fff" stroke-width="0.8" stroke-opacity="0.9"/>
<line x1="238.89" y1="234.03" x2="239.69" y2="235.17" stroke="#fff" stroke-width="0.5" stroke-opacity="0.55"/>
<line x1="244.52" y1="230.94" x2="245.43" y2="233.16" stroke="#fff" stroke-width="0.8" stroke-opacity="0.9"/>
<line x1="250.04" y1="229.30" x2="250.30" y2="230.68" stroke="#fff" stroke-width="0.5" stroke-opacity="0.55"/>
<line x1="255.78" y1="228.80" x2="255.75" y2="231.20" stroke="#fff" stroke-width="0.8" stroke-opacity="0.9"/>
<line x1="262.93" y1="229.80" x2="262.56" y2="231.16" stroke="#fff" stroke-width="0.5" stroke-opacity="0.55"/>
<line x1="269.60" y1="232.56" x2="268.41" y2="234.64" stroke="#fff" stroke-width="0.8" stroke-opacity="0.9"/>
<line x1="273.39" y1="235.14" x2="272.51" y2="236.23" stroke="#fff" stroke-width="0.5" stroke-opacity="0.55"/>
<line x1="276.72" y1="238.29" x2="274.94" y2="239.89" stroke="#fff" stroke-width="0.8" stroke-opacity="0.9"/>
<line x1="279.11" y1="241.33" x2="277.95" y2="242.12" stroke="#fff" stroke-width="0.5" stroke-opacity="0.55"/>
<line x1="281.07" y1="244.66" x2="278.92" y2="245.74" stroke="#fff" stroke-width="0.8" stroke-opacity="0.9"/>
<line x1="282.73" y1="248.73" x2="281.39" y2="249.16" stroke="#fff" stroke-width="0.5" stroke-opacity="0.55"/>
<line x1="283.75" y1="253.00" x2="281.38" y2="253.38" stroke="#fff" stroke-width="0.8" stroke-opacity="0.9"/>
<line x1="284.10" y1="257.46" x2="282.70" y2="257.46" stroke="#fff" stroke-width="0.5" stroke-opacity="0.55"/>
<line x1="283.76" y1="261.92" x2="281.39" y2="261.55" stroke="#fff" stroke-width="0.8" stroke-opacity="0.9"/>
<line x1="282.95" y1="265.53" x2="281.61" y2="265.14" stroke="#fff" stroke-width="0.5" stroke-opacity="0.55"/>
<line x1="281.69" y1="269.02" x2="279.49" y2="268.05" stroke="#fff" stroke-width="0.8" stroke-opacity="0.9"/>
<line x1="279.78" y1="272.64" x2="278.59" y2="271.90" stroke="#fff" stroke-width="0.5" stroke-opacity="0.55"/>
<line x1="277.39" y1="275.95" x2="275.55" y2="274.41" stroke="#fff" stroke-width="0.8" stroke-opacity="0.9"/>
<text x="232.75" y="261.90000000000003" font-size="3.8" fill="#d5e0ec" fill-opacity="1" text-anchor="middle">20</text>
<text x="233.4" y="252.3" font-size="3.8" fill="#d5e0ec" fill-opacity="1" text-anchor="middle">40</text>
<text x="238.75" y="243.8" font-size="3.8" fill="#d5e0ec" fill-opacity="1" text-anchor="middle">60</text>
<text x="246.9" y="238.05" font-size="3.8" fill="#d5e0ec" fill-opacity="1" text-anchor="middle">80</text>
<text x="255.7" y="236.0" font-size="3.8" fill="#d5e0ec" fill-opacity="1" text-anchor="middle">100</text>
<text x="266.5" y="239.3" font-size="3.8" fill="#d5e0ec" fill-opacity="1" text-anchor="middle">120</text>
<text x="272.6" y="243.3" font-size="3.2" fill="#d5e0ec" fill-opacity="0.45" text-anchor="middle">140</text>
<text x="274.8" y="249.10000000000002" font-size="3.8" fill="#d5e0ec" fill-opacity="1" text-anchor="middle">160</text>
<text x="278.1" y="255.20000000000002" font-size="3.2" fill="#d5e0ec" fill-opacity="0.45" text-anchor="middle">180</text>
<text x="275.3" y="261.90000000000003" font-size="3.8" fill="#d5e0ec" fill-opacity="1" text-anchor="middle">200</text>
<text x="276.4" y="268.0" font-size="3.2" fill="#d5e0ec" fill-opacity="0.45" text-anchor="middle">220</text>
<text x="255.4" y="268.3" font-size="5.6" fill="#e2eaf3" text-anchor="middle" textLength="13" lengthAdjust="spacingAndGlyphs">km/h</text>
<path d="M254.3,257.0 L268.6,231.3 L256.6,258.1 Z" fill="#e2e04e" stroke="#e2e04e" stroke-width="0.5" stroke-linejoin="round"/>
<circle cx="255.4" cy="257.5" r="4.4" fill="#0d2746"/>
</g>
<path d="M282.3,226.3 L338.5,226.3 L338.5,237 L282.3,237 L282.3,234 L278,231.6 L282.3,229 Z" fill="#fde40a"/>
<text x="286.6" y="234.5" font-size="8" fill="#1b1b1b" font-weight="bold" textLength="47.4" lengthAdjust="spacingAndGlyphs">ø 131,9 km/h</text>
<text x="47.1" y="240.8" font-size="7.8" fill="#1b1b1b" font-weight="bold" textLength="169" lengthAdjust="spacingAndGlyphs" stroke="#1b1b1b" stroke-width="0.2">Offene Frage: Welches Tempolimit sollte gelten?</text>
<text x="15" y="282.5" font-size="3.2" fill="#5a5a5a" textLength="223" lengthAdjust="spacingAndGlyphs">Auftraggeber: ÖAMTC, Quelle: IM-PULS, Spectra Marktforschungsgesellschaft mbH, Kantar, INFO Research Austria Institut für Markt- und Meinungsforschung GmbH</text>
<text x="344.7" y="282" font-size="3.2" fill="#5a5a5a" textLength="70" lengthAdjust="spacingAndGlyphs">Offenlegung durch Bundesgesetzgebung möglich</text>
<path d="M433,280 l2,0 l0,2 l-2,-0.5 z" fill="#333"/>
<text x="436" y="282" font-size="3.2" fill="#5a5a5a" textLength="59" lengthAdjust="spacingAndGlyphs">Infoelement geschützt | www.oeamtc.at</text>
</svg>
</body></html>
